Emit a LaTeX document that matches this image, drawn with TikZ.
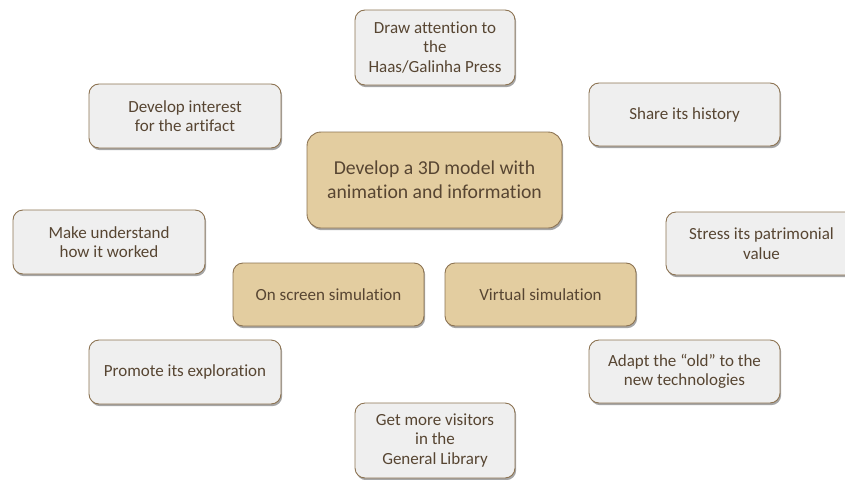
\documentclass[tikz,border=0pt]{standalone}
\usepackage{fontspec}
\setmainfont{Carlito}[Ligatures={NoCommon}]
\usetikzlibrary{shadows}
\definecolor{boxgray}{HTML}{EFEFEF}
\definecolor{boxtan}{HTML}{E3CDA0}
\definecolor{edgebrown}{HTML}{8C7352}
\definecolor{txtbrown}{HTML}{574532}
\tikzset{
  base/.style={rectangle, rounded corners=10pt, draw=edgebrown, line width=0.9pt,
    text=txtbrown, align=center, inner sep=2pt,
    drop shadow={shadow xshift=1.2pt, shadow yshift=-2.2pt, fill=black, opacity=0.35}},
  graybox/.style={base, fill=boxgray, font=\fontsize{17}{19.5}\selectfont},
  tanbox/.style={base, fill=boxtan, font=\fontsize{17}{19.5}\selectfont},
  mainbox/.style={base, fill=boxtan, font=\fontsize{19.7}{24}\selectfont, rounded corners=14pt}
}
\begin{document}
\begin{tikzpicture}[x=1pt,y=-1pt]
\useasboundingbox (0,0) rectangle (845,479);
\clip (0,0) rectangle (845,479);
\node[graybox, minimum width=160pt, minimum height=75pt] (draw) at (435,47.5) {Draw attention to\\the\\Haas/Galinha Press};
\node[graybox, minimum width=192pt, minimum height=64pt] (interest) at (185,116) {Develop interest\\for the artifact};
\node[graybox, minimum width=191pt, minimum height=63pt] (history) at (684.5,114.5) {Share its history};
\node[mainbox, minimum width=255pt, minimum height=96pt] (main) at (434.5,180) {Develop a 3D model with\\animation and information};
\node[graybox, minimum width=192pt, minimum height=64pt] (understand) at (109,242) {Make understand\\how it worked};
\node[graybox, minimum width=191pt, minimum height=63pt] (stress) at (761.5,243.5) {Stress its patrimonial\\value};
\node[tanbox, minimum width=191pt, minimum height=63pt] (onscreen) at (328.5,294.5) {On screen simulation};
\node[tanbox, minimum width=191pt, minimum height=63pt] (virtual) at (540.5,294.5) {Virtual simulation};
\node[graybox, minimum width=192pt, minimum height=64pt] (promote) at (185,372) {Promote its exploration};
\node[graybox, minimum width=191pt, minimum height=63pt] (adapt) at (684.5,371.5) {Adapt the “old” to the\\new technologies};
\node[graybox, minimum width=160pt, minimum height=75pt] (visitors) at (435,440.5) {Get more visitors\\in the\\General Library};
\end{tikzpicture}
\end{document}
